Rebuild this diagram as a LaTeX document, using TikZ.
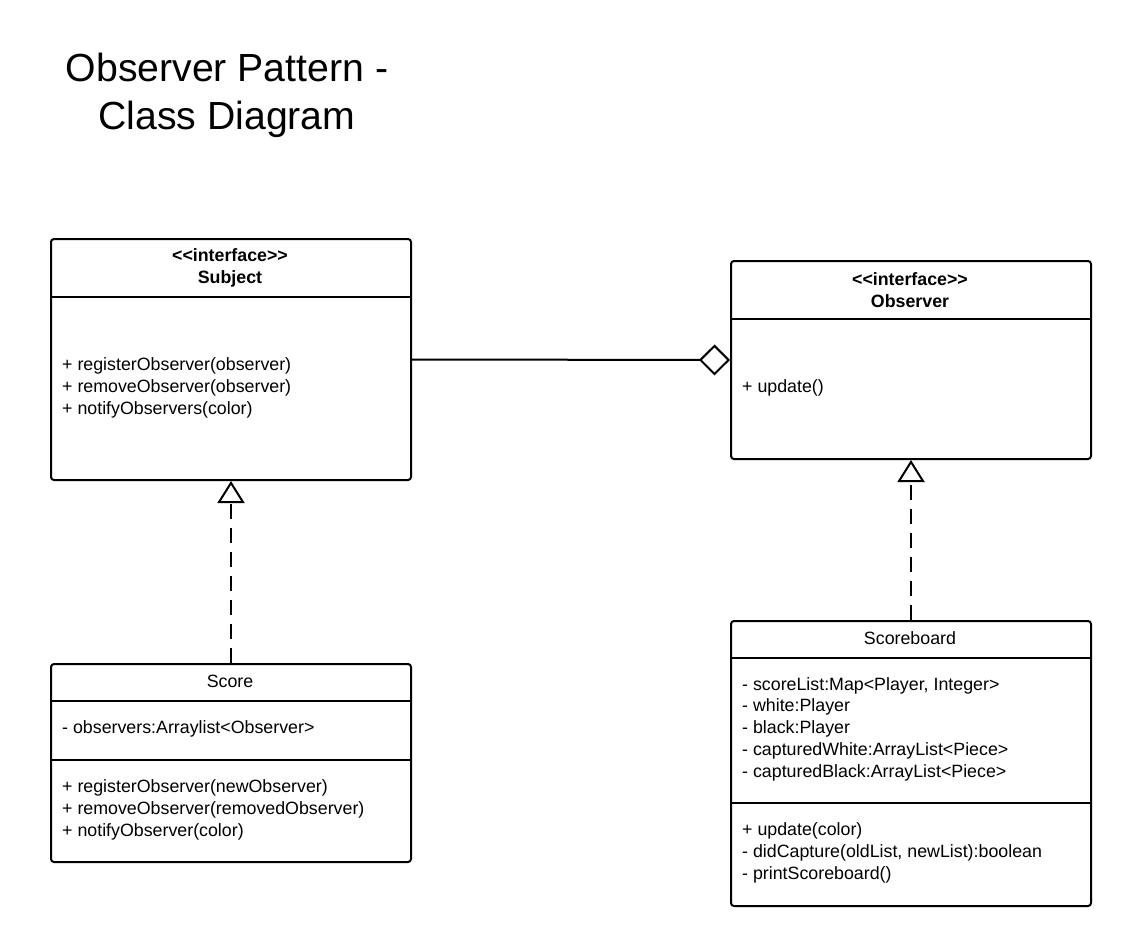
\documentclass[tikz,border=0pt]{standalone}
\usepackage{fontspec}
\setmainfont{Liberation Sans}
\usetikzlibrary{arrows.meta,positioning}

\begin{document}
\begin{tikzpicture}[x=1pt,y=-1pt]
\tikzstyle{every node}+=[inner sep=0pt]
\tikzstyle{classbox}=[draw,line width=2pt,rounded corners=3pt,minimum width=360pt,anchor=north west]
\tikzstyle{txt}=[font=\fontsize{17.8}{21.7}\selectfont]
\tikzstyle{members}=[txt,anchor=west,align=left]
\tikzstyle{divider}=[line width=2pt]
\tikzstyle{realize}=[line width=2pt,dash pattern=on 15pt off 9pt,-{Triangle[open,length=22pt,width=27pt]}]
\useasboundingbox (0,0) rectangle (1130,945);
% title
\node [align=center,font=\fontsize{39.2}{48}\selectfont] (title) at (227,95) {Observer Pattern -\\Class Diagram};
% Subject
\node [classbox,minimum height=241pt] (subject) at (50,238) {};
\draw [divider] (subject.west |- 0,297) -- (subject.east |- 0,297);
\node [txt,align=center,font=\fontsize{17.8}{21.7}\selectfont\bfseries] (subjecthead) at (230,268) {<{}<interface>{}>\\Subject};
\node [members] (subjectops) at (62,388) {+ registerObserver(observer)\\+ removeObserver(observer)\\+ notifyObservers(color)};
% Observer
\node [classbox,minimum height=198pt] (observer) at (730,260) {};
\draw [divider] (observer.west |- 0,319) -- (observer.east |- 0,319);
\node [txt,align=center,font=\fontsize{17.8}{21.7}\selectfont\bfseries] (observerhead) at (910,290) {<{}<interface>{}>\\Observer};
\node [members] (observerops) at (742,388) {+ update()};
% Score
\node [classbox,minimum height=198pt] (score) at (50,663) {};
\draw [divider] (score.west |- 0,701) -- (score.east |- 0,701);
\draw [divider] (score.west |- 0,760) -- (score.east |- 0,760);
\node [txt] (scorehead) at (230,681) {Score};
\node [members] (scoreattr) at (62,729) {- observers:Arraylist<Observer>};
\node [members] (scoreops) at (62,810) {+ registerObserver(newObserver)\\+ removeObserver(removedObserver)\\+ notifyObserver(color)};
% Scoreboard
\node [classbox,minimum height=285pt] (board) at (730,620) {};
\draw [divider] (board.west |- 0,658) -- (board.east |- 0,658);
\draw [divider] (board.west |- 0,803) -- (board.east |- 0,803);
\node [txt] (boardhead) at (910,638) {Scoreboard};
\node [members] (boardattr) at (742,729) {- scoreList:Map<Player, Integer>\\- white:Player\\- black:Player\\- capturedWhite:ArrayList<Piece>\\- capturedBlack:ArrayList<Piece>};
\node [members] (boardops) at (742,853) {+ update(color)\\- didCapture(oldList, newList):boolean\\- printScoreboard()};
% relations
\draw [line width=2pt,-{Diamond[open,length=31pt,width=31pt]}] (subject.east) -- (observer.west);
\draw [realize] (score.north) -- (subject.south);
\draw [realize] (board.north) -- (observer.south);
\end{tikzpicture}
\end{document}
